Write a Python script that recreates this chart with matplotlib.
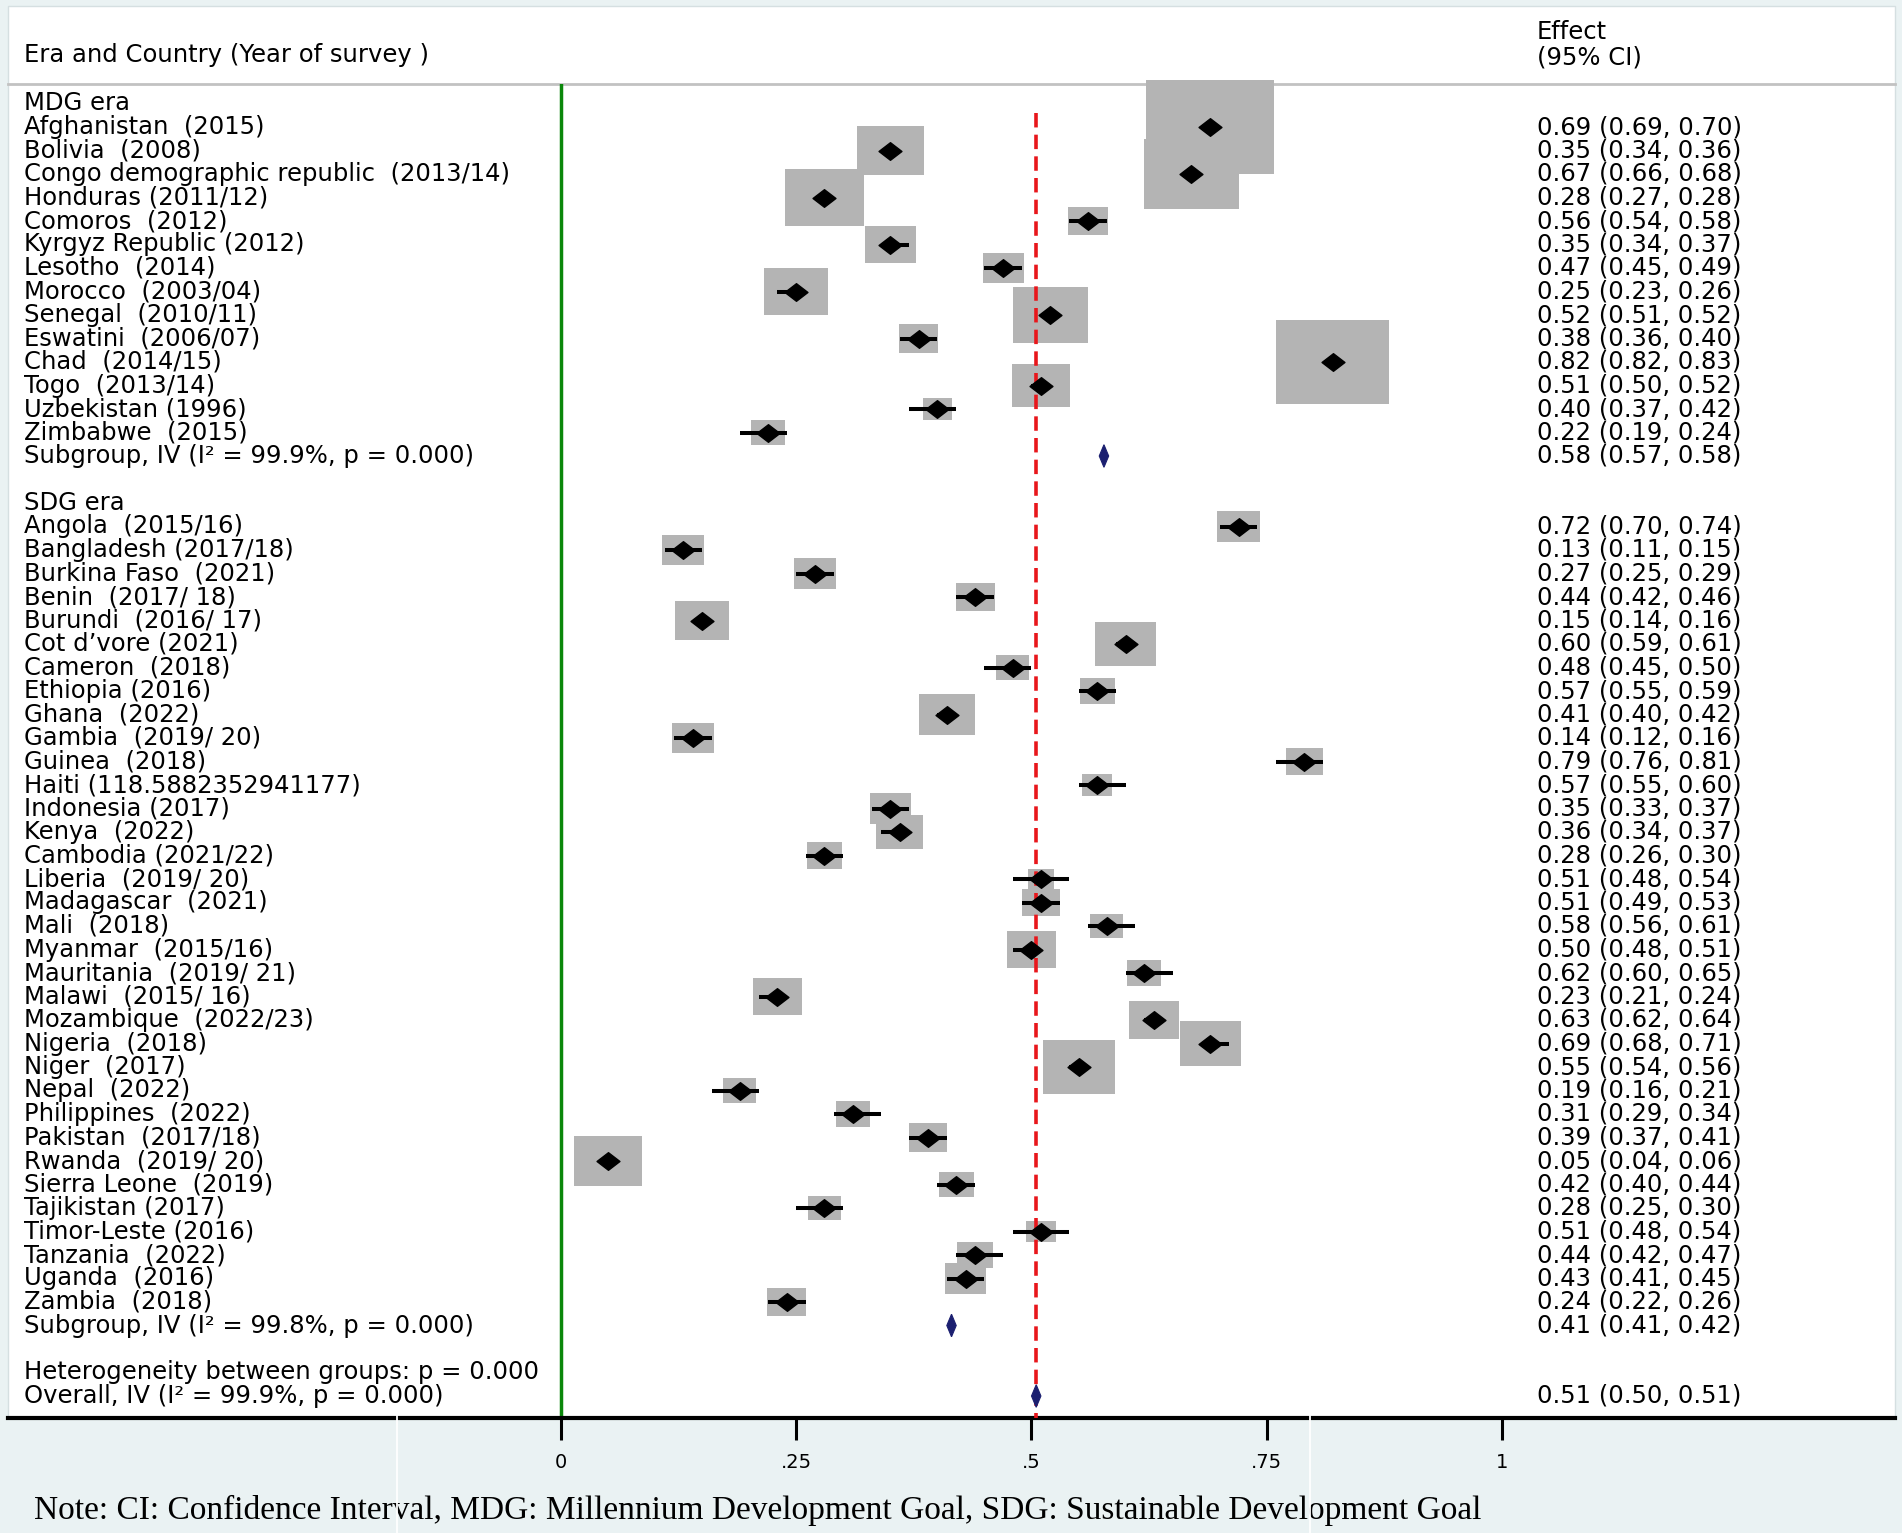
import numpy as np
import matplotlib
matplotlib.use("Agg")
import matplotlib.pyplot as plt
import matplotlib.transforms as mtransforms
from matplotlib.patches import Rectangle, Polygon
from matplotlib.lines import Line2D
from matplotlib.path import Path

# ---- data ----
mdg_labels = ["Afghanistan  (2015)", "Bolivia  (2008)", "Congo demographic republic  (2013/14)",
              "Honduras (2011/12)", "Comoros  (2012)", "Kyrgyz Republic (2012)", "Lesotho  (2014)",
              "Morocco  (2003/04)", "Senegal  (2010/11)", "Eswatini  (2006/07)", "Chad  (2014/15)",
              "Togo  (2013/14)", "Uzbekistan (1996)", "Zimbabwe  (2015)"]
mdg_eff = [0.69, 0.35, 0.67, 0.28, 0.56, 0.35, 0.47, 0.25, 0.52, 0.38, 0.82, 0.51, 0.40, 0.22]
mdg_lo = [0.69, 0.34, 0.66, 0.27, 0.54, 0.34, 0.45, 0.23, 0.51, 0.36, 0.82, 0.50, 0.37, 0.19]
mdg_hi = [0.70, 0.36, 0.68, 0.28, 0.58, 0.37, 0.49, 0.26, 0.52, 0.40, 0.83, 0.52, 0.42, 0.24]
mdg_weight = [88.4, 24.0, 49.0, 33.6, 8.4, 14.4, 9.0, 22.1, 30.3, 8.4, 68.9, 18.5, 4.8, 6.3]

sdg_labels = ["Angola  (2015/16)", "Bangladesh (2017/18)", "Burkina Faso  (2021)", "Benin  (2017/ 18)",
              "Burundi  (2016/ 17)", "Cot d\u2019vore (2021)", "Cameron  (2018)", "Ethiopia (2016)",
              "Ghana  (2022)", "Gambia  (2019/ 20)", "Guinea  (2018)", "Haiti (118.5882352941177)",
              "Indonesia (2017)", "Kenya  (2022)", "Cambodia (2021/22)", "Liberia  (2019/ 20)",
              "Madagascar  (2021)", "Mali  (2018)", "Myanmar  (2015/16)", "Mauritania  (2019/ 21)",
              "Malawi  (2015/ 16)", "Mozambique  (2022/23)", "Nigeria  (2018)", "Niger  (2017)",
              "Nepal  (2022)", "Philippines  (2022)", "Pakistan  (2017/18)", "Rwanda  (2019/ 20)",
              "Sierra Leone  (2019)", "Tajikistan (2017)", "Timor-Leste (2016)", "Tanzania  (2022)",
              "Uganda  (2016)", "Zambia  (2018)"]
sdg_eff = [0.72, 0.13, 0.27, 0.44, 0.15, 0.60, 0.48, 0.57, 0.41, 0.14, 0.79, 0.57, 0.35, 0.36, 0.28,
           0.51, 0.51, 0.58, 0.50, 0.62, 0.23, 0.63, 0.69, 0.55, 0.19, 0.31, 0.39, 0.05, 0.42, 0.28,
           0.51, 0.44, 0.43, 0.24]
sdg_lo = [0.70, 0.11, 0.25, 0.42, 0.14, 0.59, 0.45, 0.55, 0.40, 0.12, 0.76, 0.55, 0.33, 0.34, 0.26,
          0.48, 0.49, 0.56, 0.48, 0.60, 0.21, 0.62, 0.68, 0.54, 0.16, 0.29, 0.37, 0.04, 0.40, 0.25,
          0.48, 0.42, 0.41, 0.22]
sdg_hi = [0.74, 0.15, 0.29, 0.46, 0.16, 0.61, 0.50, 0.59, 0.42, 0.16, 0.81, 0.60, 0.37, 0.37, 0.30,
          0.54, 0.53, 0.61, 0.51, 0.65, 0.24, 0.64, 0.71, 0.56, 0.21, 0.34, 0.41, 0.06, 0.44, 0.30,
          0.54, 0.47, 0.45, 0.26]
sdg_weight = [10.0, 9.4, 9.2, 8.2, 15.4, 19.6, 5.9, 6.8, 16.8, 9.4, 7.1, 4.8, 9.4, 12.0, 6.9,
              3.7, 7.7, 5.8, 13.5, 6.3, 13.2, 13.7, 20.0, 28.1, 5.8, 6.3, 8.2, 24.7, 6.6, 5.6,
              4.7, 6.9, 9.4, 8.2]

pooled_labels = ["Subgroup, IV (I\u00b2 = 99.9%, p = 0.000)",
                 "Subgroup, IV (I\u00b2 = 99.8%, p = 0.000)",
                 "Overall, IV (I\u00b2 = 99.9%, p = 0.000)"]
pooled_est = [0.577, 0.415, 0.505]
pooled_lo = [0.572, 0.410, 0.500]
pooled_hi = [0.582, 0.420, 0.510]
pooled_text = ["0.58 (0.57, 0.58)", "0.41 (0.41, 0.42)", "0.51 (0.50, 0.51)"]
het_text = "Heterogeneity between groups: p = 0.000"

x_ticks = [0, 0.25, 0.5, 0.75, 1]
x_ticklabels = ["0", ".25", ".5", ".75", "1"]
note_text = ("Note: CI: Confidence Interval, MDG: Millennium Development Goal, "
             "SDG: Sustainable Development Goal")

# ---- row layout ----
mdg_rows = np.arange(1, 1 + len(mdg_labels))
mdg_sub_row = mdg_rows[-1] + 1
sdg_head_row = mdg_sub_row + 2
sdg_rows = np.arange(sdg_head_row + 1, sdg_head_row + 1 + len(sdg_labels))
sdg_sub_row = sdg_rows[-1] + 1
het_row = sdg_sub_row + 2
overall_row = het_row + 1
pooled_rows = [mdg_sub_row, sdg_sub_row, overall_row]

W, H = 1902, 1533
def fx(px):
    return px / W
def fy(py):
    return 1 - py / H

x0_px, px_per_unit = 561, 941.0
row0_px, row_px = 103.5, 23.5
box_aspect = 1.36

fig = plt.figure(figsize=(W / 100, H / 100), dpi=100, facecolor='#eaf2f3')
fig.patches.append(Rectangle((fx(8), fy(1418)), fx(1895) - fx(8), fy(6) - fy(1418),
                             transform=fig.transFigure, facecolor='white',
                             edgecolor='#d5dfe1', lw=1, zorder=-5))
# header rule (under the plot, big boxes may overlap it)
fig.add_artist(Line2D([fx(8), fx(1895)], [fy(84), fy(84)], transform=fig.transFigure,
                      color='#c2c2c2', lw=2, zorder=0.5))

ax = fig.add_axes([fx(8), fy(1418), fx(1895) - fx(8), fy(84) - fy(1418)])
ax.set_zorder(1)
ax.set_facecolor('none')
ax.set_xlim((8 - x0_px) / px_per_unit, (1895 - x0_px) / px_per_unit)
ax.set_ylim((1418 - row0_px) / row_px, (84 - row0_px) / row_px)
for s in ['left', 'right', 'top']:
    ax.spines[s].set_visible(False)
ax.spines['bottom'].set_linewidth(3)
ax.set_yticks([])
ax.set_xticks(x_ticks, x_ticklabels)
ax.tick_params(axis='x', direction='out', length=16, width=2.2, pad=9, labelsize=14)

# null line and overall line
ax.axvline(0, color='#0a870a', lw=2.5, zorder=1)
ax.vlines(pooled_est[2], 0.4, ax.get_ylim()[0], colors='#e8161b', lw=2.6,
          linestyles=(0, (4, 2)), zorder=3)

diamond = Path([(0, 1), (1.3, 0), (0, -1), (-1.3, 0), (0, 1)], closed=True)

def draw_studies(rows, eff, lo, hi, weight):
    for r, e, w in zip(rows, eff, weight):
        side = 10 * np.sqrt(w)
        hgt = side / row_px
        wid = box_aspect * side / px_per_unit
        ax.add_patch(Rectangle((e - wid / 2, r - hgt / 2), wid, hgt, clip_on=False,
                               facecolor='#b4b4b4', edgecolor='none', zorder=2))
    ax.hlines(rows, lo, hi, colors='black', lw=2.9, zorder=4)
    ax.plot(eff, rows, ls='none', marker=diamond, ms=16.5, color='black', zorder=5)

draw_studies(mdg_rows, mdg_eff, mdg_lo, mdg_hi, mdg_weight)
draw_studies(sdg_rows, sdg_eff, sdg_lo, sdg_hi, sdg_weight)

for r, e, lo, hi in zip(pooled_rows, pooled_est, pooled_lo, pooled_hi):
    ax.add_patch(Polygon([(lo, r), (e, r - 0.48), (hi, r), (e, r + 0.48)], closed=True,
                         facecolor='#1b1f70', edgecolor='#1b1f70', lw=0.8, zorder=5))

# ---- text columns ----
tr = mtransforms.blended_transform_factory(fig.transFigure, ax.transData)
fs = 17.5
left_x, right_x = fx(24), fx(1537)

def row_text(x, r, s):
    ax.text(x, r, s, transform=tr, fontsize=fs, va='center', ha='left', clip_on=False)

row_text(left_x, 0, "MDG era")
row_text(left_x, sdg_head_row, "SDG era")
for r, lab, e, lo, hi in zip(mdg_rows, mdg_labels, mdg_eff, mdg_lo, mdg_hi):
    row_text(left_x, r, lab)
    row_text(right_x, r, f"{e:.2f} ({lo:.2f}, {hi:.2f})")
for r, lab, e, lo, hi in zip(sdg_rows, sdg_labels, sdg_eff, sdg_lo, sdg_hi):
    row_text(left_x, r, lab)
    row_text(right_x, r, f"{e:.2f} ({lo:.2f}, {hi:.2f})")
for r, lab, txt in zip(pooled_rows, pooled_labels, pooled_text):
    row_text(left_x, r, lab)
    row_text(right_x, r, txt)
row_text(left_x, het_row, het_text)

fig.text(left_x, fy(55), "Era and Country (Year of survey )", fontsize=fs, va='center', ha='left')
fig.text(right_x, fy(32), "Effect", fontsize=fs, va='center', ha='left')
fig.text(right_x, fy(57), "(95% CI)", fontsize=fs, va='center', ha='left')

# white seams across the bottom panel
for sx in (397, 1310):
    fig.add_artist(Line2D([fx(sx), fx(sx)], [fy(1414), fy(1533)], transform=fig.transFigure,
                          color='white', lw=1.3, zorder=6))

note = fig.text(fx(34), fy(1510), note_text, family='Liberation Serif', fontsize=24,
                va='center', ha='left')
fig.canvas.draw()
wpx = note.get_window_extent().width
note.set_fontsize(24 * 1449 / wpx)

fig.savefig("out.png", dpi=100, facecolor=fig.get_facecolor())
